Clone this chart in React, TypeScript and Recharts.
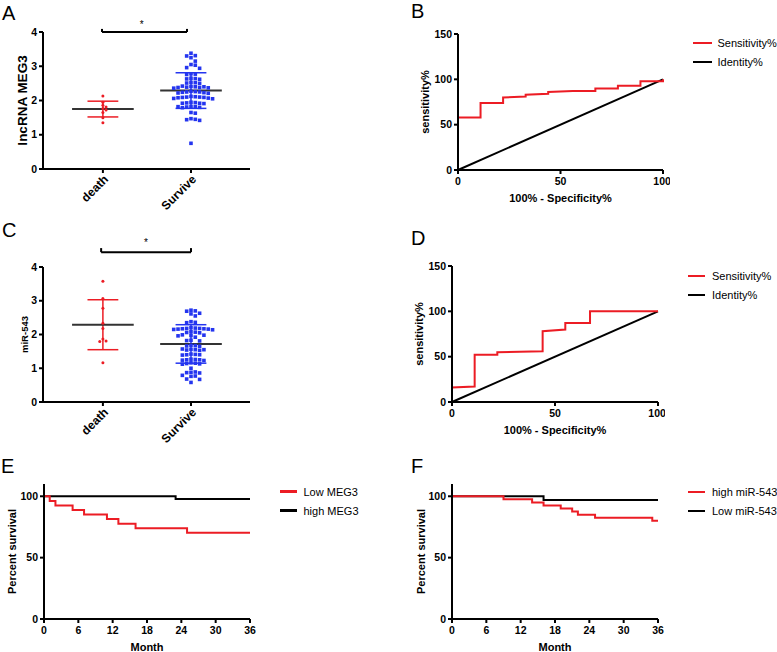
import React from 'react'
import { ScatterChart, Scatter, LineChart, Line, XAxis, YAxis, ReferenceLine, ReferenceDot } from 'recharts'

// 6-panel figure: dot plots (A, C), ROC curves (B, D), Kaplan-Meier curves (E, F)

const FONT = '"Liberation Sans", Arial, Helvetica, sans-serif'
const RED = '#ec1c24'
const BLUE = '#2435ef'
const BLACK = '#000000'
const MEAN_GREY = '#333333'

// ---- A: lncRNA MEG3 ----
const groupNames = ['death', 'Survive']
const meg3Death = [2.13, 1.95, 1.86, 1.81, 1.77, 1.72, 1.65, 1.5, 1.35]
const meg3Survive = [
  3.38, 3.31, 3.3, 3.25, 3.15, 3.05, 3.03, 2.96, 2.94, 2.78, 2.77, 2.76, 2.65, 2.64, 2.63, 2.62,
  2.53, 2.52, 2.51, 2.5, 2.42, 2.41, 2.4, 2.4, 2.39, 2.38, 2.38, 2.37, 2.36, 2.27, 2.26, 2.25,
  2.25, 2.24, 2.23, 2.22, 2.21, 2.12, 2.11, 2.1, 2.1, 2.09, 2.09, 2.08, 2.07, 2.06, 2.05, 1.95,
  1.94, 1.93, 1.92, 1.92, 1.91, 1.83, 1.82, 1.82, 1.81, 1.8, 1.79, 1.65, 1.63, 1.47, 1.45, 1.44,
  1.42, 0.75,
]
const meg3Mean = [1.75, 2.29]
const meg3Sd = [0.23, 0.52]

// ---- C: miR-543 ----
const mir543Death = [3.58, 3.07, 2.78, 2.33, 2.18, 1.87, 1.81, 1.79, 1.16]
const mir543Survive = [
  2.72, 2.7, 2.69, 2.63, 2.61, 2.55, 2.38, 2.36, 2.35, 2.2, 2.19, 2.18, 2.18, 2.17, 2.17, 2.16,
  2.16, 2.15, 2.14, 2.08, 2.07, 2.06, 2.05, 1.99, 1.98, 1.97, 1.96, 1.92, 1.83, 1.82, 1.81, 1.68,
  1.67, 1.66, 1.65, 1.57, 1.56, 1.55, 1.55, 1.54, 1.53, 1.42, 1.41, 1.4, 1.4, 1.39, 1.27, 1.26,
  1.25, 1.25, 1.24, 1.23, 1.16, 1.15, 1.14, 1.13, 1.12, 1.0, 0.89, 0.88, 0.87, 0.86, 0.79, 0.77,
  0.76, 0.68, 0.67, 0.58,
]
const mir543Mean = [2.29, 1.72]
const mir543Sd = [0.74, 0.57]

// ---- B / D: ROC ----
const rocNames = ['Sensitivity%', 'Identity%']
const identityX = [0, 100]
const identityY = [0, 100]
const rocBFpr = [0, 0, 11, 11, 22, 22, 33, 33, 44, 44, 56, 67, 67, 78, 78, 89, 89, 100, 100]
const rocBSens = [0, 58, 58, 74, 74, 80, 81, 83, 84, 86, 87, 87, 90, 90, 93, 93, 98, 98, 100]
const rocDFpr = [0, 0, 11, 11, 22, 22, 44, 44, 55, 55, 67, 67, 100]
const rocDSens = [0, 16, 17, 52, 52, 55, 56, 78, 80, 87, 87, 100, 100]

// ---- E / F: survival ----
const kmENames = ['Low MEG3', 'high MEG3']
const lowMeg3Month = [0, 1, 2, 5, 7, 11, 13, 16, 25, 36]
const lowMeg3Surv = [100, 96.2, 92.5, 88.8, 85.1, 81.4, 77.7, 74, 70.3, 70.3]
const highMeg3Month = [0, 23, 36]
const highMeg3Surv = [100, 97.8, 97.8]

const kmFNames = ['high miR-543', 'Low miR-543']
const highMirMonth = [0, 9, 14, 16, 19, 21, 22, 25, 35, 36]
const highMirSurv = [100, 97.5, 95, 92.5, 90, 87.5, 85, 82.5, 80, 80]
const lowMirMonth = [0, 16, 36]
const lowMirSurv = [100, 97, 97]

const monthTicks = [0, 6, 12, 18, 24, 30, 36]

const zip = (xs: number[], ys: number[]) => xs.map((x, i) => ({ x, y: ys[i] }))

// simple beeswarm: spread values that are close in y into side-by-side columns
function swarm(values: number[], center: number, dx: number, dy: number) {
  const placed: { x: number; y: number }[] = []
  const sorted = [...values].sort((a, b) => b - a)
  for (const v of sorted) {
    for (let k = 0; k < 60; k++) {
      const off = k === 0 ? 0 : (k % 2 ? 1 : -1) * Math.ceil(k / 2)
      const x = center + off * dx
      const hit = placed.some(p => Math.abs(p.x - x) < dx * 0.5 && Math.abs(p.y - v) < dy)
      if (!hit) {
        placed.push({ x, y: v })
        break
      }
    }
  }
  return placed
}

const tickStyle = { fontSize: 10.5, fontWeight: 700, fill: '#000', fontFamily: FONT }
const axisLine = { stroke: '#000', strokeWidth: 2 }
const titleStyle = (size: number) => ({ fontSize: size, fontWeight: 700, fill: '#000', fontFamily: FONT })

type Box = { left: number; top: number; width: number; height: number }
type Plot = { x0: number; x1: number; y0: number; y1: number }

function PanelLetter({ letter, left, baseline }: { letter: string; left: number; baseline: number }) {
  return (
    <div style={{ position: 'absolute', left, top: baseline - 17, fontSize: 20, lineHeight: '20px', fontFamily: FONT, color: '#000' }}>
      {letter}
    </div>
  )
}

function SeriesLegend({ left, top, names, colors, lineLen, gap }: { left: number; top: number; names: string[]; colors: string[]; lineLen: number; gap: number }) {
  return (
    <div style={{ position: 'absolute', left, top, fontFamily: FONT, fontSize: 11, color: '#000' }}>
      {names.map((n, i) => (
        <div key={n} style={{ display: 'flex', alignItems: 'center', height: 19, whiteSpace: 'nowrap' }}>
          <span style={{ display: 'inline-block', width: lineLen, height: 2.5, background: colors[i], marginRight: gap }} />
          <span>{n}</span>
        </div>
      ))}
    </div>
  )
}

type Series = { name: string; color: string; data: { x: number; y: number }[] }

function XYPanel(props: {
  box: Box; plot: Plot; xDomain: number[]; xTicks: number[]; yDomain: number[]; yTicks: number[]
  xLabel: string; xLabelBaseline: number; yLabel: string; yLabelX: number; series: Series[]; step?: boolean
}) {
  const { box, plot } = props
  const margin = { top: plot.y0 - box.top, right: box.left + box.width - plot.x1, bottom: 0, left: 0 }
  return (
    <div style={{ position: 'absolute', left: box.left, top: box.top }}>
      <LineChart width={box.width} height={box.height} margin={margin}>
        <XAxis
          type="number" dataKey="x" domain={props.xDomain} ticks={props.xTicks}
          height={box.top + box.height - plot.y1} axisLine={axisLine} tickLine={axisLine}
          tickSize={4} tickMargin={4} tick={tickStyle}
          label={{ value: props.xLabel, position: 'insideBottom', offset: box.top + box.height - props.xLabelBaseline, style: titleStyle(11) }}
        />
        <YAxis
          type="number" dataKey="y" domain={props.yDomain} ticks={props.yTicks}
          width={plot.x0 - box.left} axisLine={axisLine} tickLine={axisLine}
          tickSize={4} tickMargin={2} tick={tickStyle}
          label={{ value: props.yLabel, angle: -90, position: 'insideLeft', offset: props.yLabelX - box.left, style: { ...titleStyle(11), textAnchor: 'middle' } }}
        />
        {[...props.series].reverse().map(s => (
          <Line
            key={s.name} data={s.data} dataKey="y" name={s.name}
            type={props.step ? 'stepAfter' : 'linear'} stroke={s.color} strokeWidth={2}
            dot={false} activeDot={false} isAnimationActive={false}
          />
        ))}
      </LineChart>
    </div>
  )
}

const Square = (p: any) => <rect x={p.cx - 1.8} y={p.cy - 1.8} width={3.6} height={3.6} fill={BLUE} />
const SmallDot = (p: any) => <circle cx={p.cx} cy={p.cy} r={1.5} fill={RED} />

const GroupTick = (p: any) => (
  <text
    x={p.x} y={p.y} dy="0.71em" transform={`rotate(-45 ${p.x} ${p.y})`} textAnchor="end"
    fontSize={12} fontWeight={700} fontFamily={FONT} fill="#000"
  >
    {groupNames[p.payload.value - 1]}
  </text>
)

function DotPlot(props: {
  box: Box; plot: Plot; death: number[]; survive: number[]; mean: number[]; sd: number[]
  yLabel: string; yLabelSize: number; yLabelX: number
  bracket: { x0: number; x1: number; y: number; yTop: number; starX: number; starY: number }
}) {
  const { box, plot, mean, sd, bracket } = props
  const margin = { top: plot.y0 - box.top, right: box.left + box.width - plot.x1, bottom: 0, left: 0 }
  const deathPts = swarm(props.death, 1, 0.036, 0.085)
  const survivePts = swarm(props.survive, 2, 0.049, 0.11)
  const colors = [RED, BLUE]
  return (
    <div style={{ position: 'absolute', left: box.left, top: box.top }}>
      <ScatterChart width={box.width} height={box.height} margin={margin}>
        <XAxis
          type="number" dataKey="x" domain={[0.32, 2.67]} ticks={[1, 2]} allowDataOverflow
          height={box.top + box.height - plot.y1} axisLine={axisLine} tickLine={axisLine}
          tickSize={4} tickMargin={1} tick={GroupTick}
        />
        <YAxis
          type="number" dataKey="y" domain={[0, 4]} ticks={[0, 1, 2, 3, 4]}
          width={plot.x0 - box.left} axisLine={axisLine} tickLine={axisLine}
          tickSize={4} tickMargin={2} tick={tickStyle}
          label={{ value: props.yLabel, angle: -90, position: 'insideLeft', offset: props.yLabelX - box.left, style: { ...titleStyle(props.yLabelSize), textAnchor: 'middle' } }}
        />
        <Scatter data={deathPts} shape={SmallDot} isAnimationActive={false} />
        <Scatter data={survivePts} shape={Square} isAnimationActive={false} />
        {mean.map((m, i) => {
          const c = i + 1
          const col = colors[i]
          return [
            <ReferenceLine key={`v${i}`} segment={[{ x: c, y: m - sd[i] }, { x: c, y: m + sd[i] }]} stroke={col} strokeWidth={1.5} />,
            <ReferenceLine key={`u${i}`} segment={[{ x: c - 0.175, y: m + sd[i] }, { x: c + 0.175, y: m + sd[i] }]} stroke={col} strokeWidth={1.5} />,
            <ReferenceLine key={`l${i}`} segment={[{ x: c - 0.175, y: m - sd[i] }, { x: c + 0.175, y: m - sd[i] }]} stroke={col} strokeWidth={1.5} />,
            <ReferenceLine key={`m${i}`} segment={[{ x: c - 0.35, y: m }, { x: c + 0.35, y: m }]} stroke={MEAN_GREY} strokeWidth={2} />,
          ]
        })}
        <ReferenceLine segment={[{ x: bracket.x0, y: bracket.y }, { x: bracket.x1, y: bracket.y }]} stroke={BLACK} strokeWidth={2} ifOverflow="visible" />
        <ReferenceLine segment={[{ x: bracket.x0, y: bracket.y }, { x: bracket.x0, y: bracket.yTop }]} stroke={BLACK} strokeWidth={2} ifOverflow="visible" />
        <ReferenceLine segment={[{ x: bracket.x1, y: bracket.y }, { x: bracket.x1, y: bracket.yTop }]} stroke={BLACK} strokeWidth={2} ifOverflow="visible" />
        <ReferenceDot
          x={bracket.starX} y={bracket.starY} r={0} fill="none" stroke="none" ifOverflow="visible"
          label={{ value: '*', position: 'center', style: { fontSize: 10, fill: '#000', fontFamily: FONT } }}
        />
      </ScatterChart>
    </div>
  )
}

export default function App() {
  return (
    <div style={{ position: 'relative', width: 777, height: 652, background: '#fff', overflow: 'hidden' }}>
      <style>{'body{margin:0}'}</style>

      <PanelLetter letter="A" left={2} baseline={20} />
      <DotPlot
        box={{ left: 0, top: 0, width: 260, height: 215 }}
        plot={{ x0: 43, x1: 250, y0: 32, y1: 169 }}
        death={meg3Death} survive={meg3Survive} mean={meg3Mean} sd={meg3Sd}
        yLabel="lncRNA MEG3" yLabelSize={13.5} yLabelX={22}
        bracket={{ x0: 0.99, x1: 1.955, y: 4, yTop: 4.09, starX: 1.44, starY: 4.21 }}
      />

      <PanelLetter letter="B" left={411} baseline={18} />
      <XYPanel
        box={{ left: 390, top: 0, width: 280, height: 215 }}
        plot={{ x0: 458, x1: 663, y0: 34, y1: 170 }}
        xDomain={[0, 100]} xTicks={[0, 50, 100]} yDomain={[0, 150]} yTicks={[0, 50, 100, 150]}
        xLabel="100% - Specificity%" xLabelBaseline={202} yLabel="sensitivity%" yLabelX={425}
        series={[
          { name: rocNames[0], color: RED, data: zip(rocBFpr, rocBSens) },
          { name: rocNames[1], color: BLACK, data: zip(identityX, identityY) },
        ]}
      />
      <SeriesLegend left={693} top={33.5} names={rocNames} colors={[RED, BLACK]} lineLen={19} gap={5.5} />

      <PanelLetter letter="C" left={2} baseline={237} />
      <DotPlot
        box={{ left: 0, top: 210, width: 260, height: 240 }}
        plot={{ x0: 43, x1: 250, y0: 267, y1: 402 }}
        death={mir543Death} survive={mir543Survive} mean={mir543Mean} sd={mir543Sd}
        yLabel="miR-543" yLabelSize={9.5} yLabelX={25}
        bracket={{ x0: 0.98, x1: 2.0, y: 4.44, yTop: 4.56, starX: 1.49, starY: 4.72 }}
      />

      <PanelLetter letter="D" left={411} baseline={245} />
      <XYPanel
        box={{ left: 390, top: 210, width: 275, height: 235 }}
        plot={{ x0: 452, x1: 658, y0: 266, y1: 402 }}
        xDomain={[0, 100]} xTicks={[0, 50, 100]} yDomain={[0, 150]} yTicks={[0, 50, 100, 150]}
        xLabel="100% - Specificity%" xLabelBaseline={434} yLabel="sensitivity%" yLabelX={419}
        series={[
          { name: rocNames[0], color: RED, data: zip(rocDFpr, rocDSens) },
          { name: rocNames[1], color: BLACK, data: zip(identityX, identityY) },
        ]}
      />
      <SeriesLegend left={688} top={266.5} names={rocNames} colors={[RED, BLACK]} lineLen={17} gap={7} />

      <PanelLetter letter="E" left={1} baseline={473} />
      <XYPanel
        box={{ left: 0, top: 440, width: 257, height: 212 }}
        plot={{ x0: 44, x1: 250, y0: 484, y1: 619 }}
        xDomain={[0, 36]} xTicks={monthTicks} yDomain={[0, 110]} yTicks={[0, 50, 100]}
        xLabel="Month" xLabelBaseline={651} yLabel="Percent survival" yLabelX={12} step
        series={[
          { name: kmENames[0], color: RED, data: zip(lowMeg3Month, lowMeg3Surv) },
          { name: kmENames[1], color: BLACK, data: zip(highMeg3Month, highMeg3Surv) },
        ]}
      />
      <SeriesLegend left={280} top={482} names={kmENames} colors={[RED, BLACK]} lineLen={17} gap={6.5} />

      <PanelLetter letter="F" left={411} baseline={473} />
      <XYPanel
        box={{ left: 390, top: 440, width: 275, height: 212 }}
        plot={{ x0: 452, x1: 658, y0: 484, y1: 619 }}
        xDomain={[0, 36]} xTicks={monthTicks} yDomain={[0, 110]} yTicks={[0, 50, 100]}
        xLabel="Month" xLabelBaseline={651} yLabel="Percent survival" yLabelX={421} step
        series={[
          { name: kmFNames[0], color: RED, data: zip(highMirMonth, highMirSurv) },
          { name: kmFNames[1], color: BLACK, data: zip(lowMirMonth, lowMirSurv) },
        ]}
      />
      <SeriesLegend left={688} top={482.5} names={kmFNames} colors={[RED, BLACK]} lineLen={17} gap={7} />
    </div>
  )
}
